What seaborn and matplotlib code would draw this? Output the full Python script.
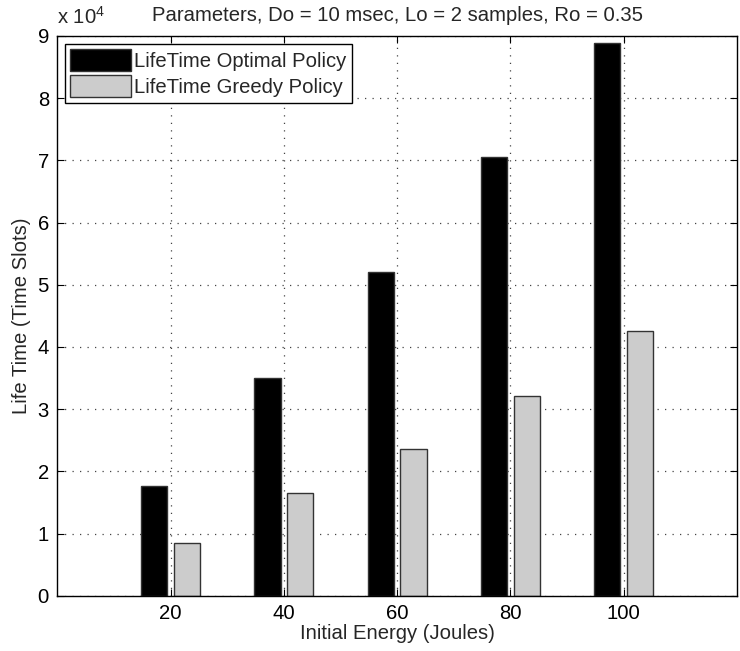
import matplotlib
matplotlib.use("Agg")
import matplotlib.pyplot as plt
import seaborn as sns
import pandas as pd
from matplotlib.ticker import FuncFormatter

energy = [20, 40, 60, 80, 100]
optimal = [17600, 35050, 52100, 70500, 88900]
greedy = [8400, 16500, 23550, 32050, 42600]
series_names = ["LifeTime Optimal Policy", "LifeTime Greedy Policy"]
yticks = [0, 1, 2, 3, 4, 5, 6, 7, 8, 9]

df = pd.DataFrame({
    "energy": energy * 2,
    "life": optimal + greedy,
    "policy": [series_names[0]] * len(energy) + [series_names[1]] * len(energy),
})

sns.set_style("white")
plt.rcParams["font.family"] = ["Liberation Sans", "DejaVu Sans"]
plt.rcParams["mathtext.fontset"] = "custom"
plt.rcParams["mathtext.rm"] = "Liberation Sans"

FS = 14.6
fig = plt.figure(figsize=(7.4, 6.51), dpi=100)
ax = fig.add_axes([57.3 / 740, 1 - 595.7 / 651, (737 - 57.3) / 740, (595.7 - 36) / 651])

sns.barplot(data=df, x="energy", y="life", hue="policy", native_scale=True,
            width=0.58, gap=0.2, palette=["black", "#cccccc"],
            edgecolor="#333333", linewidth=1.0, errorbar=None, ax=ax,
            hue_order=series_names)

ax.set_xlim(0, 120)
ax.set_ylim(0, 90000)
ax.set_xticks(energy)
ax.set_xticklabels([str(e) for e in energy])
ax.set_yticks([v * 1e4 for v in yticks])
ax.yaxis.set_major_formatter(FuncFormatter(lambda v, p: f"{v/1e4:g}"))

ax.set_axisbelow(True)
ax.grid(True, linestyle=(0, (1, 5)), color="#444444", linewidth=0.9)
for s in ax.spines.values():
    s.set_visible(True)
    s.set_color("black")
    s.set_linewidth(1.0)
ax.tick_params(direction="in", length=5, width=0.8, top=True, right=True,
               bottom=True, left=True, labelsize=FS, colors="black", pad=6)

ax.set_xlabel("Initial Energy (Joules)", fontsize=FS, labelpad=1)
ax.set_ylabel("Life Time (Time Slots)", fontsize=FS, labelpad=5)
ax.set_title("Parameters, Do = 10 msec, Lo = 2 samples, Ro = 0.35", fontsize=FS, pad=11)
ax.text(0.0, 1.014, r"x 10$^{4}$", transform=ax.transAxes, fontsize=FS,
        ha="left", va="bottom")

handles, labels = ax.get_legend_handles_labels()
leg = ax.legend(handles, labels, loc="upper left", fontsize=FS, frameon=True,
                fancybox=False, edgecolor="black", framealpha=1,
                handlelength=3.0, handleheight=1.3, handletextpad=0.15,
                borderpad=0.25, labelspacing=0.2, borderaxespad=0.4)
leg.get_frame().set_linewidth(1.0)

fig.savefig("out.png", dpi=100)
